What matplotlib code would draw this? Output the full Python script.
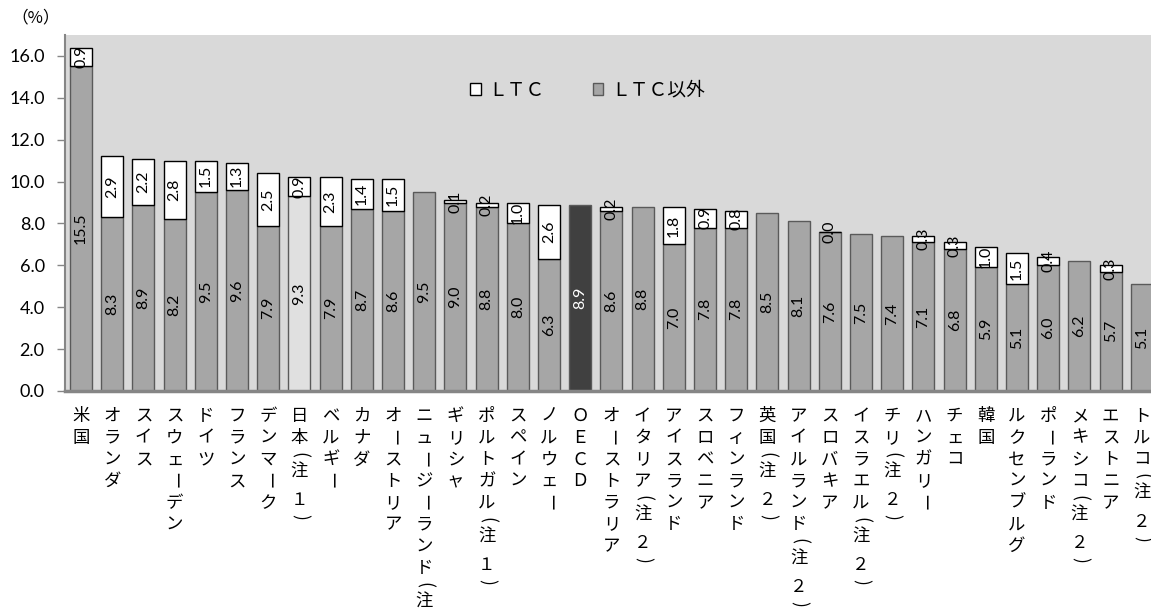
import matplotlib
matplotlib.use("Agg")
import matplotlib.pyplot as plt
from matplotlib.patches import Patch
import numpy as np

# data
countries = ["米国", "オランダ", "スイス", "スウェーデン", "ドイツ", "フランス", "デンマーク",
             "日本（注１）", "ベルギー", "カナダ", "オーストリア", "ニュージーランド（注２）",
             "ギリシャ", "ポルトガル（注１）", "スペイン", "ノルウェー", "ＯＥＣＤ",
             "オーストラリア", "イタリア（注２）", "アイスランド", "スロベニア", "フィンランド",
             "英国（注２）", "アイルランド（注２）", "スロバキア", "イスラエル（注２）",
             "チリ（注２）", "ハンガリー", "チェコ", "韓国", "ルクセンブルグ", "ポーランド",
             "メキシコ（注２）", "エストニア", "トルコ（注２）"]
non_ltc = [15.5, 8.3, 8.9, 8.2, 9.5, 9.6, 7.9, 9.3, 7.9, 8.7, 8.6, 9.5,
           9.0, 8.8, 8.0, 6.3, 8.9, 8.6, 8.8, 7.0, 7.8, 7.8, 8.5, 8.1,
           7.6, 7.5, 7.4, 7.1, 6.8, 5.9, 5.1, 6.0, 6.2, 5.7, 5.1]
nan = np.nan
ltc = [0.9, 2.9, 2.2, 2.8, 1.5, 1.3, 2.5, 0.9, 2.3, 1.4, 1.5, nan,
       0.1, 0.2, 1.0, 2.6, nan, 0.2, nan, 1.8, 0.9, 0.8, nan, nan,
       0.0, nan, nan, 0.3, 0.3, 1.0, 1.5, 0.4, nan, 0.3, nan]
yticks = [0, 2, 4, 6, 8, 10, 12, 14, 16]

jp = ["Noto Sans CJK JP", "DejaVu Sans"]
num = ["Lato", "DejaVu Sans"]

fig = plt.figure(figsize=(11.51, 6.14), dpi=100)
ax = fig.add_axes([0.0569, 0.3632, 0.9487, 0.5798])
ax.set_facecolor("#d9d9d9")

x = np.arange(len(countries))
base_colors = ["#a6a6a6"] * len(countries)
base_colors[countries.index("日本（注１）")] = "#e0e0e0"
base_colors[countries.index("ＯＥＣＤ")] = "#404040"

w = 0.705
ax.bar(x, non_ltc, width=w, color=base_colors, edgecolor="#5a5a5a", linewidth=1, zorder=2)
ltc_arr = np.array(ltc)
has = ~np.isnan(ltc_arr)
ax.bar(x[has], ltc_arr[has], bottom=np.array(non_ltc)[has], width=w,
       color="white", edgecolor="black", linewidth=1, zorder=3)

for i in range(len(countries)):
    col = "white" if countries[i] == "ＯＥＣＤ" else "black"
    ax.text(x[i], non_ltc[i] / 2, f"{non_ltc[i]:.1f}", rotation=90, ha="center",
            va="center", fontsize=11.5, family=num, color=col, zorder=4)
    if has[i]:
        ax.text(x[i], non_ltc[i] + ltc[i] / 2, f"{ltc[i]:.1f}", rotation=90,
                ha="center", va="center", fontsize=11.5, family=num, zorder=4)

# category names written vertically, one character at a time
full, half = 21.7, 12.0
for i, name in enumerate(countries):
    pos = 25.0 - full / 2
    prev = None
    for ch in name:
        rot = 0
        glyph = ch
        if ch in "（）":
            adv = half
            glyph = "(" if ch == "（" else ")"
            rot = -90
        else:
            adv = full
            if ch == "ー":
                rot = -90
            if ch in "１２":
                pos += 7
        pos += full / 2 if prev is None else (prev + adv) / 2
        ax.annotate(glyph, xy=(x[i], 0), xycoords=("data", "axes fraction"),
                    xytext=(0, -pos), textcoords="offset pixels", ha="center",
                    va="center", rotation=rot, fontsize=12.5, family=jp,
                    annotation_clip=False)
        prev = adv

ax.set_xlim(-0.5, len(countries) - 0.5)
ax.set_ylim(0, 17)
ax.set_yticks(yticks, labels=[f"{v:.1f}" for v in yticks], fontsize=13, family=num)
ax.set_xticks(x, labels=[])
ax.tick_params(axis="x", length=0)
ax.tick_params(axis="y", length=6, width=1, color="#868686", pad=9)

for s in ["top", "right"]:
    ax.spines[s].set_visible(False)
ax.spines["left"].set_color("#868686")
ax.spines["left"].set_linewidth(1.5)
ax.spines["bottom"].set_color("#868686")
ax.spines["bottom"].set_linewidth(2.5)

handles = [Patch(facecolor="white", edgecolor="black", linewidth=1),
           Patch(facecolor="#a6a6a6", edgecolor="#5a5a5a", linewidth=1)]
ax.legend(handles, ["ＬＴＣ", "ＬＴＣ以外"], loc="center", bbox_to_anchor=(0.478, 0.845),
          ncol=2, frameon=False, prop={"family": jp, "size": 13.5},
          handlelength=0.55, handleheight=0.55, handletextpad=0.4, columnspacing=2.6)

fig.text(0.010, 0.971, "（%）", fontsize=12, family=jp, va="center", ha="left")

fig.savefig("out.png", dpi=100)
